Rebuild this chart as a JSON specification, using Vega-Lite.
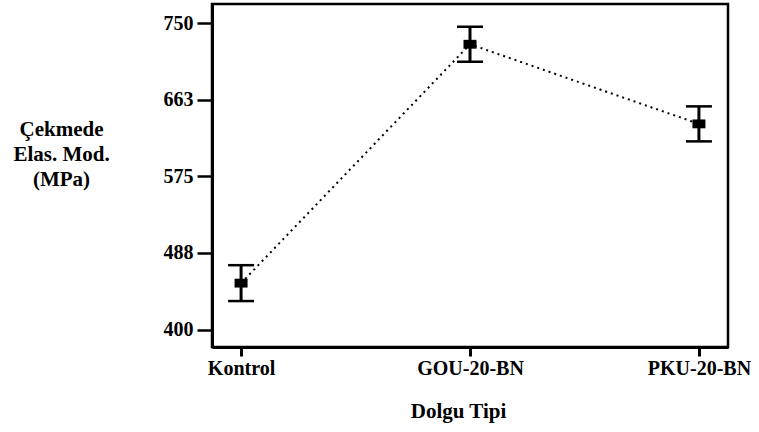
{
  "$schema": "https://vega.github.io/schema/vega-lite/v6.json",
  "width": 516,
  "height": 343,
  "autosize": {"type": "none"},
  "padding": {"left": 212, "top": 4, "right": 31, "bottom": 85},
  "background": "white",
  "config": {
    "view": {"stroke": "black", "strokeWidth": 2.5},
    "font": "Liberation Serif",
    "axis": {
      "domainColor": "black",
      "domainWidth": 3,
      "tickColor": "black",
      "labelColor": "black",
      "titleColor": "black",
      "labelFont": "Liberation Serif",
      "titleFont": "Liberation Serif",
      "labelFontWeight": "bold",
      "titleFontWeight": "bold",
      "grid": false
    },
    "axisY": {
      "tickSize": 15,
      "tickWidth": 2.5,
      "labelPadding": 4,
      "labelFontSize": 20,
      "titleFontSize": 21,
      "titleLineHeight": 25,
      "titleAngle": 0,
      "titleX": -151,
      "titleY": 131,
      "titleAlign": "center",
      "titleBaseline": "alphabetic"
    }
  },
  "data": {
    "values": [
      {"tip": "Kontrol", "ort": 453, "lo": 432.5, "hi": 473.5},
      {"tip": "GOU-20-BN", "ort": 726, "lo": 706, "hi": 746},
      {"tip": "PKU-20-BN", "ort": 635, "lo": 615, "hi": 655}
    ]
  },
  "encoding": {
    "x": {
      "field": "tip",
      "type": "nominal",
      "sort": null,
      "scale": {"type": "point", "padding": 0.127},
      "axis": {
        "title": "Dolgu Tipi",
        "labelAngle": 0,
        "tickSize": 9,
        "tickWidth": 3,
        "labelPadding": 2,
        "labelFontSize": 20,
        "titleFontSize": 21,
        "titleX": 246,
        "titleY": 70,
        "titleAlign": "center",
        "titleBaseline": "alphabetic"
      }
    }
  },
  "layer": [
    {
      "mark": {"type": "rule", "strokeWidth": 3, "color": "black"},
      "encoding": {
        "y": {
          "field": "lo",
          "type": "quantitative",
          "scale": {"domain": [380, 772], "nice": false, "zero": false},
          "axis": {"title": ["Çekmede", "Elas. Mod.", "(MPa)"], "values": [400, 487.5, 575, 662.5, 750], "format": ".0f"}
        },
        "y2": {"field": "hi"}
      }
    },
    {
      "mark": {"type": "tick", "size": 26, "thickness": 2.5, "color": "black", "opacity": 1},
      "encoding": {
        "y": {
          "field": "lo",
          "type": "quantitative",
          "axis": {"title": ["Çekmede", "Elas. Mod.", "(MPa)"], "values": [400, 487.5, 575, 662.5, 750], "format": ".0f"}
        }
      }
    },
    {
      "mark": {"type": "tick", "size": 26, "thickness": 2.5, "color": "black", "opacity": 1},
      "encoding": {
        "y": {
          "field": "hi",
          "type": "quantitative",
          "axis": {"title": ["Çekmede", "Elas. Mod.", "(MPa)"], "values": [400, 487.5, 575, 662.5, 750], "format": ".0f"}
        }
      }
    },
    {
      "mark": {"type": "line", "strokeDash": [2, 4], "strokeWidth": 2, "color": "black"},
      "encoding": {
        "y": {
          "field": "ort",
          "type": "quantitative",
          "axis": {"title": ["Çekmede", "Elas. Mod.", "(MPa)"], "values": [400, 487.5, 575, 662.5, 750], "format": ".0f"}
        }
      }
    },
    {
      "mark": {
        "type": "point",
        "shape": "M-1,-0.68L1,-0.68L1,0.68L-1,0.68Z",
        "size": 169,
        "filled": true,
        "color": "black",
        "opacity": 1
      },
      "encoding": {
        "y": {
          "field": "ort",
          "type": "quantitative",
          "axis": {"title": ["Çekmede", "Elas. Mod.", "(MPa)"], "values": [400, 487.5, 575, 662.5, 750], "format": ".0f"}
        }
      }
    }
  ]
}
